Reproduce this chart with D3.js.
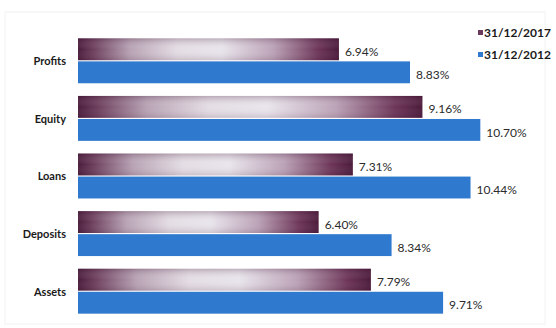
<!DOCTYPE html>
<html>
<head>
<meta charset="utf-8">
<script src="https://cdn.jsdelivr.net/npm/d3@7"></script>
<style>
  body { margin: 0; background: #fff; }
  svg { display: block; font-family: Lato, "Open Sans", sans-serif; }
</style>
</head>
<body>
<div id="chart"></div>
<script>
/* Horizontal grouped bars: growth rates 31/12/2017 vs 31/12/2012 */

const categories = ["Profits", "Equity", "Loans", "Deposits", "Assets"];
const seriesNames = ["31/12/2017", "31/12/2012"];
const values2017 = [6.94, 9.16, 7.31, 6.40, 7.79];
const values2012 = [8.83, 10.70, 10.44, 8.34, 9.71];

const data = categories.map((c, i) => ({
    cat: c,
    vals: [
        { key: seriesNames[0], v: values2017[i] },
        { key: seriesNames[1], v: values2012[i] }
    ]
}));

/* container size */
const height = 328,
      width = 556,
      margin = ({ top: 32, right: 102, bottom: 8, left: 78 });

let svg = d3.select("#chart")
    .append("svg")
    .attr("width", width)
    .attr("height", height)
    .attr("viewBox", [0, 0, width, height]);

/* gradient for the 2017 bars */
const defs = svg.append("defs");
const grad = defs.append("linearGradient")
    .attr("id", "plum")
    .attr("x1", "0%").attr("x2", "100%")
    .attr("y1", "0%").attr("y2", "0%");
[
    [0, "#4a1c3b"], [0.06, "#6e405e"], [0.2, "#b8a3b4"], [0.38, "#e4dde4"],
    [0.55, "#e9e5ec"], [0.75, "#bba2b6"], [0.92, "#6d3558"], [1, "#4b1a3a"]
].forEach(([o, c]) => grad.append("stop").attr("offset", o).attr("stop-color", c));

/* soft vertical shading on top of it */
const shade = defs.append("linearGradient")
    .attr("id", "shade")
    .attr("x1", "0%").attr("x2", "0%")
    .attr("y1", "0%").attr("y2", "100%");
shade.append("stop").attr("offset", 0).attr("stop-color", "#3a1030").attr("stop-opacity", 0.25);
shade.append("stop").attr("offset", 0.5).attr("stop-color", "#fff").attr("stop-opacity", 0);
shade.append("stop").attr("offset", 1).attr("stop-color", "#3a1030").attr("stop-opacity", 0.15);

const colors = { "31/12/2017": "url(#plum)", "31/12/2012": "#2f79cf" };

/* faint frame from the scanned original */
svg.append("rect")
    .attr("x", 5).attr("y", 12)
    .attr("width", 540).attr("height", 312)
    .attr("fill", "none")
    .attr("stroke", "#f2f2f2");

/* scales */
const x = d3.scaleLinear()
    .domain([0, 10])
    .range([margin.left, margin.left + 376]);

const y = d3.scaleBand()
    .domain(categories)
    .range([margin.top, height - margin.bottom])
    .paddingInner(0.22)
    .paddingOuter(0.11);

const ySub = d3.scaleBand()
    .domain(seriesNames)
    .range([0, y.bandwidth()])
    .paddingInner(0.05);

/* category labels (axis without line/ticks) */
svg.append("g")
    .attr("transform", `translate(${margin.left - 12}, 0)`)
    .call(d3.axisLeft(y).tickSize(0))
    .call(g => g.select(".domain").remove())
    .call(g => g.selectAll("text")
        .attr("x", 0)
        .attr("dy", "0.4em")
        .style("font-family", "Lato, sans-serif")
        .style("font-size", "11px")
        .style("font-weight", "bold")
        .style("fill", "#1a1a1a"));

/* bar groups */
let group = svg.selectAll(".grp")
    .data(data)
    .join("g")
    .attr("class", "grp")
    .attr("transform", d => `translate(0, ${y(d.cat)})`);

let bar = group.selectAll(".bar")
    .data(d => d.vals)
    .join("g")
    .attr("class", "bar");

bar.append("rect")
    .attr("x", x(0))
    .attr("y", d => ySub(d.key))
    .attr("width", d => x(d.v) - x(0))
    .attr("height", ySub.bandwidth())
    .attr("fill", d => colors[d.key]);

bar.filter(d => d.key === seriesNames[0])
    .append("rect")
    .attr("x", x(0))
    .attr("y", d => ySub(d.key))
    .attr("width", d => x(d.v) - x(0))
    .attr("height", ySub.bandwidth())
    .attr("fill", "url(#shade)");

/* value labels */
bar.append("text")
    .text(d => d.v.toFixed(2) + "%")
    .attr("x", d => x(d.v) + 6)
    .attr("y", d => ySub(d.key) + ySub.bandwidth() / 2)
    .attr("dy", "0.55em")
    .style("font-size", "12px")
    .style("fill", "#2b2b2b");

/* legend */
let legend = svg.append("g")
    .attr("transform", "translate(478, 33)")
    .selectAll("g")
    .data(seriesNames)
    .join("g")
    .attr("transform", (d, i) => `translate(0, ${i * 22})`);

legend.append("rect")
    .attr("x", 0).attr("y", -3)
    .attr("width", 5).attr("height", 5)
    .attr("fill", d => d === seriesNames[0] ? "#6a3a5a" : "#2f79cf");

legend.append("text")
    .text(d => d)
    .attr("x", 6)
    .attr("dy", "0.35em")
    .style("font-size", "12px")
    .style("font-weight", "bold")
    .style("fill", "#1a1a1a");
</script>
</body>
</html>
